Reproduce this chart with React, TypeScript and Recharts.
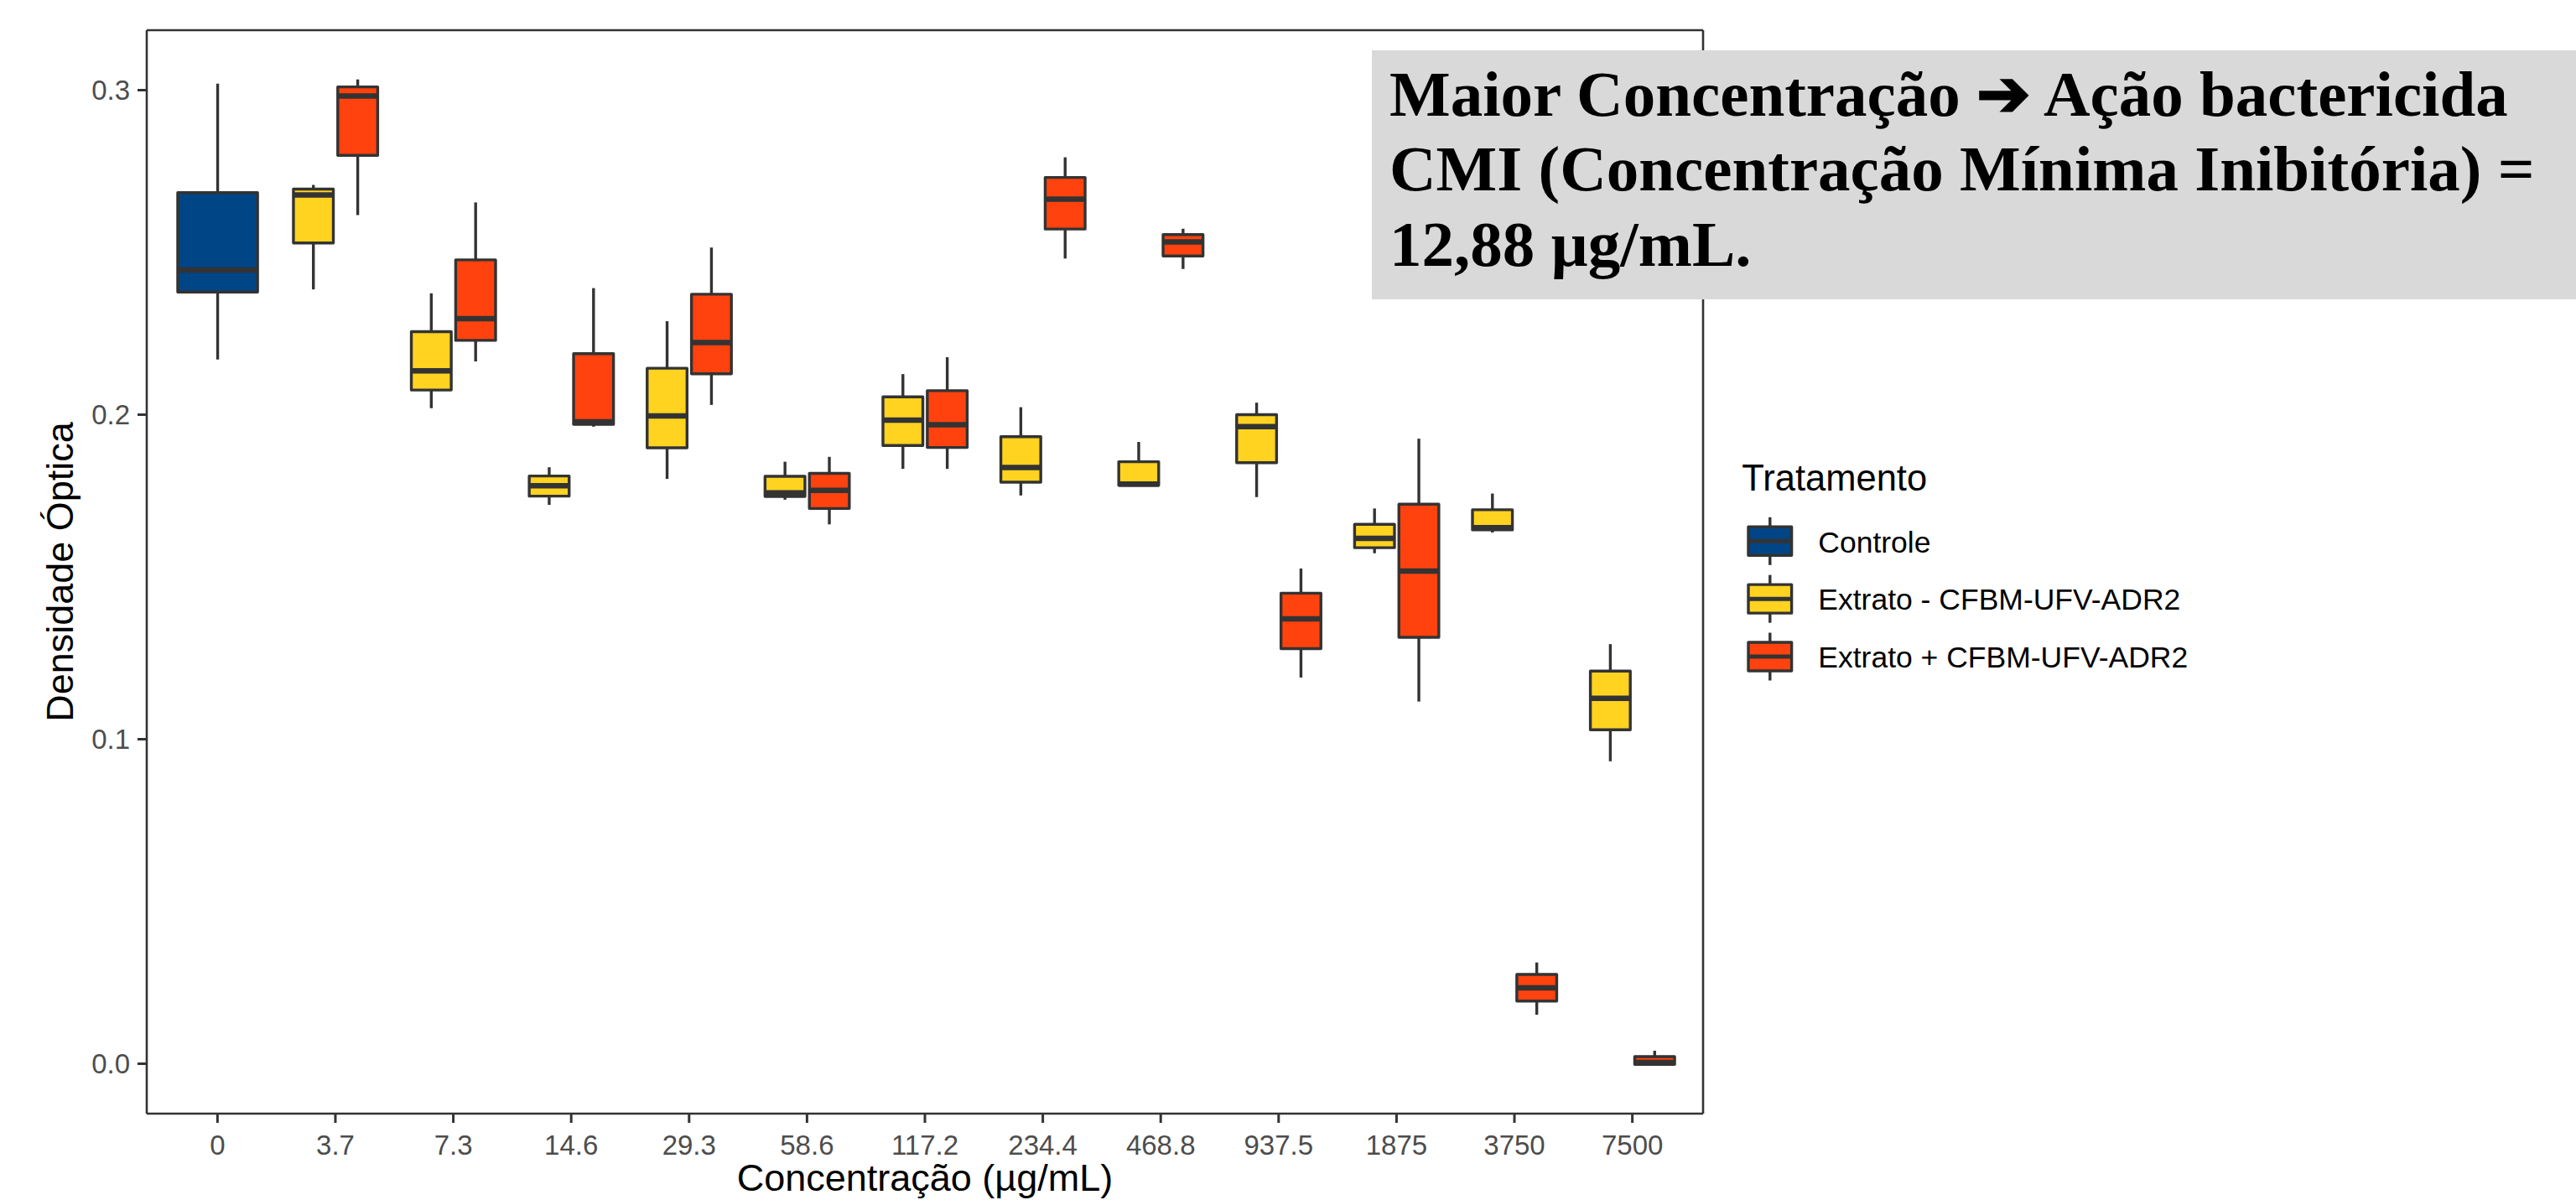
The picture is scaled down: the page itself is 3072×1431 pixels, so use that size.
import React from 'react';
import { ComposedChart, Bar, XAxis, YAxis, Legend, Label } from 'recharts';

// ---- data ----
const categories = ['0', '3.7', '7.3', '14.6', '29.3', '58.6', '117.2', '234.4', '468.8', '937.5', '1875', '3750', '7500'];

// [min, q1, median, q3, max]
const controleStats: (number[] | null)[] = [
  [0.2170, 0.2378, 0.2446, 0.2684, 0.3020],
  null, null, null, null, null, null, null, null, null, null, null, null,
];

const extratoMenosStats: (number[] | null)[] = [
  null,
  [0.2386, 0.2529, 0.2677, 0.2695, 0.2708],
  [0.2020, 0.2076, 0.2135, 0.2256, 0.2374],
  [0.1722, 0.1749, 0.1781, 0.1811, 0.1838],
  [0.1802, 0.1898, 0.1996, 0.2143, 0.2288],
  [0.1738, 0.1748, 0.1759, 0.1810, 0.1855],
  [0.1833, 0.1905, 0.1983, 0.2055, 0.2125],
  [0.1751, 0.1792, 0.1837, 0.1932, 0.2023],
  [0.1782, 0.1782, 0.1786, 0.1855, 0.1916],
  [0.1746, 0.1852, 0.1963, 0.2000, 0.2037],
  [0.1573, 0.1590, 0.1619, 0.1662, 0.1711],
  [0.1637, 0.1645, 0.1652, 0.1707, 0.1757],
  [0.0932, 0.1029, 0.1126, 0.1210, 0.1293],
];

const extratoMaisStats: (number[] | null)[] = [
  null,
  [0.2615, 0.2799, 0.2982, 0.3010, 0.3033],
  [0.2164, 0.2229, 0.2296, 0.2477, 0.2654],
  [0.1963, 0.1970, 0.1978, 0.2188, 0.2390],
  [0.2030, 0.2126, 0.2222, 0.2371, 0.2515],
  [0.1662, 0.1711, 0.1767, 0.1819, 0.1870],
  [0.1833, 0.1899, 0.1969, 0.2074, 0.2177],
  [0.2481, 0.2572, 0.2664, 0.2731, 0.2793],
  [0.2449, 0.2489, 0.2532, 0.2555, 0.2573],
  [0.1190, 0.1279, 0.1371, 0.1450, 0.1526],
  [0.1116, 0.1314, 0.1518, 0.1724, 0.1926],
  [0.0151, 0.0193, 0.0234, 0.0275, 0.0312],
  [-0.0002, -0.0002, 0.0004, 0.0022, 0.0040],
];

const yTicks = [0, 0.1, 0.2, 0.3];
const seriesNames = ['Controle', 'Extrato - CFBM-UFV-ADR2', 'Extrato + CFBM-UFV-ADR2'];
const seriesColors = ['#004586', '#FFD320', '#FF420E'];
const annotationLines = [
  'Maior Concentração ➔ Ação bactericida',
  'CMI (Concentração Mínima Inibitória) =',
  '12,88 µg/mL.',
];

// ---- derived ----
const data = categories.map((cat, i) => ({
  cat,
  ctrl: controleStats[i],
  minus: extratoMenosStats[i],
  plus: extratoMaisStats[i],
}));

const allVals: number[] = [];
[controleStats, extratoMenosStats, extratoMaisStats].forEach((s) =>
  s.forEach((r) => { if (r) allVals.push(...r); })
);
const dMin = Math.min(...allVals);
const dMax = Math.max(...allVals);
const pad = (dMax - dMin) * 0.05;
const yDomain: [number, number] = [dMin - pad, dMax + pad];

const INK = '#333333';
const SANS = 'Liberation Sans, Arial, sans-serif';

function renderBox(p: any, key: 'ctrl' | 'minus' | 'plus', offsetFrac: number, widthFrac: number, color: string) {
  const stats = p && p.payload ? p.payload[key] : null;
  if (!stats || !isFinite(p.y) || !isFinite(p.height)) return <g />;
  const [mn, q1, md, q3, mx] = stats;
  const band = p.width;
  const cx = p.x + band / 2 + offsetFrac * band;
  const w = widthFrac * band;
  const span = mx - mn || 1;
  const py = (v: number) => p.y + ((mx - v) / span) * p.height;
  return (
    <g>
      <line x1={cx} x2={cx} y1={py(mx)} y2={py(q3)} stroke={INK} strokeWidth={3.4} />
      <line x1={cx} x2={cx} y1={py(q1)} y2={py(mn)} stroke={INK} strokeWidth={3.4} />
      <rect x={cx - w / 2} y={py(q3)} width={w} height={Math.max(py(q1) - py(q3), 0.01)} fill={color} stroke={INK} strokeWidth={3.4} strokeLinejoin="round" />
      <line x1={cx - w / 2} x2={cx + w / 2} y1={py(md)} y2={py(md)} stroke={INK} strokeWidth={6.5} />
    </g>
  );
}

const XTitle = (props: any) => {
  const vb = props.viewBox || { x: 175, y: 1328, width: 1856, height: 103 };
  return (
    <text x={vb.x + vb.width / 2} y={vb.y + vb.height - 11} textAnchor="middle" fontSize={45} fontFamily={SANS} fill="#000">
      Concentração (µg/mL)
    </text>
  );
};

const YTitle = (props: any) => {
  const vb = props.viewBox || { x: 0, y: 36, width: 175, height: 1292 };
  const x = vb.x + 87;
  const y = vb.y + vb.height / 2;
  return (
    <text x={x} y={y} transform={`rotate(-90 ${x} ${y})`} textAnchor="middle" fontSize={45} fontFamily={SANS} fill="#000">
      Densidade Óptica
    </text>
  );
};

const LegendContent = () => (
  <svg width={620} height={300} style={{ overflow: 'visible' }}>
    <text x={17.3} y={55} fontSize={43.5} fontFamily={SANS} fill="#000">Tratamento</text>
    {seriesNames.map((n, i) => {
      const cy = 115.3 + i * 68.85;
      return (
        <g key={n}>
          <line x1={50.8} x2={50.8} y1={cy - 28.5} y2={cy + 28.5} stroke={INK} strokeWidth={3.4} />
          <rect x={25} y={cy - 17} width={51.6} height={34} fill={seriesColors[i]} stroke={INK} strokeWidth={3.4} strokeLinejoin="round" />
          <line x1={25} x2={76.6} y1={cy} y2={cy} stroke={INK} strokeWidth={5} />
          <text x={108.3} y={cy + 13.2} fontSize={35.5} fontFamily={SANS} fill="#000">{n}</text>
        </g>
      );
    })}
  </svg>
);

const xPad = { left: 14.06, right: 14.06 };

export default function App() {
  return (
    <div style={{ position: 'absolute', left: 0, top: 0, width: 3072, height: 1431, overflow: 'hidden', background: '#fff' }}>
      <ComposedChart
        width={3072}
        height={1431}
        data={data}
        margin={{ top: 35, right: 1040, bottom: 0, left: 0 }}
        barCategoryGap={0}
        barGap={0}
      >
        <XAxis
          xAxisId="x0"
          dataKey="cat"
          type="category"
          height={103}
          padding={xPad}
          interval={0}
          tickSize={11}
          tickMargin={15}
          tick={{ fontSize: 33, fill: '#4D4D4D', fontFamily: SANS }}
          tickLine={{ stroke: INK, strokeWidth: 3 }}
          axisLine={{ stroke: INK, strokeWidth: 2.6 }}
        >
          <Label content={XTitle} />
        </XAxis>
        <XAxis
          xAxisId="x1"
          orientation="top"
          dataKey="cat"
          type="category"
          height={1}
          padding={xPad}
          tick={false}
          tickLine={false}
          axisLine={{ stroke: INK, strokeWidth: 2.6 }}
        />
        <XAxis xAxisId="x2" dataKey="cat" type="category" hide padding={xPad} />
        <YAxis
          yAxisId="y0"
          type="number"
          domain={yDomain}
          allowDataOverflow
          ticks={yTicks}
          tickFormatter={(v: number) => v.toFixed(1)}
          width={175}
          tickSize={11}
          tickMargin={9}
          tick={{ fontSize: 33, fill: '#4D4D4D', fontFamily: SANS }}
          tickLine={{ stroke: INK, strokeWidth: 3 }}
          axisLine={{ stroke: INK, strokeWidth: 2.6 }}
        >
          <Label content={YTitle} />
        </YAxis>
        <YAxis
          yAxisId="y1"
          orientation="right"
          type="number"
          domain={yDomain}
          allowDataOverflow
          width={1}
          tick={false}
          tickLine={false}
          axisLine={{ stroke: INK, strokeWidth: 2.6 }}
        />
        <Bar
          xAxisId="x0"
          yAxisId="y0"
          name={seriesNames[0]}
          dataKey={(d: any) => (d.ctrl ? [d.ctrl[0], d.ctrl[4]] : null)}
          fill={seriesColors[0]}
          isAnimationActive={false}
          shape={(p: any) => renderBox(p, 'ctrl', 0, 0.675, seriesColors[0])}
        />
        <Bar
          xAxisId="x1"
          yAxisId="y0"
          name={seriesNames[1]}
          dataKey={(d: any) => (d.minus ? [d.minus[0], d.minus[4]] : null)}
          fill={seriesColors[1]}
          isAnimationActive={false}
          shape={(p: any) => renderBox(p, 'minus', -0.1875, 0.3375, seriesColors[1])}
        />
        <Bar
          xAxisId="x2"
          yAxisId="y0"
          name={seriesNames[2]}
          dataKey={(d: any) => (d.plus ? [d.plus[0], d.plus[4]] : null)}
          fill={seriesColors[2]}
          isAnimationActive={false}
          shape={(p: any) => renderBox(p, 'plus', 0.1875, 0.3375, seriesColors[2])}
        />
        <Legend
          layout="vertical"
          align="center"
          verticalAlign="middle"
          wrapperStyle={{ left: 2060, top: 530, width: 620, height: 300 }}
          content={LegendContent}
        />
      </ComposedChart>
      <svg width={3072} height={1431} style={{ position: 'absolute', left: 0, top: 0, zIndex: 5, pointerEvents: 'none' }}>
        <rect x={1636} y={60} width={1500} height={297} fill="#D9D9D9" />
        {annotationLines.map((t, i) => (
          <text
            key={i}
            x={1657}
            y={138 + i * 89.3}
            fontSize={77}
            fontWeight="bold"
            fontFamily="Liberation Serif, Times New Roman, serif"
            fill="#000"
          >
            {t}
          </text>
        ))}
      </svg>
    </div>
  );
}
